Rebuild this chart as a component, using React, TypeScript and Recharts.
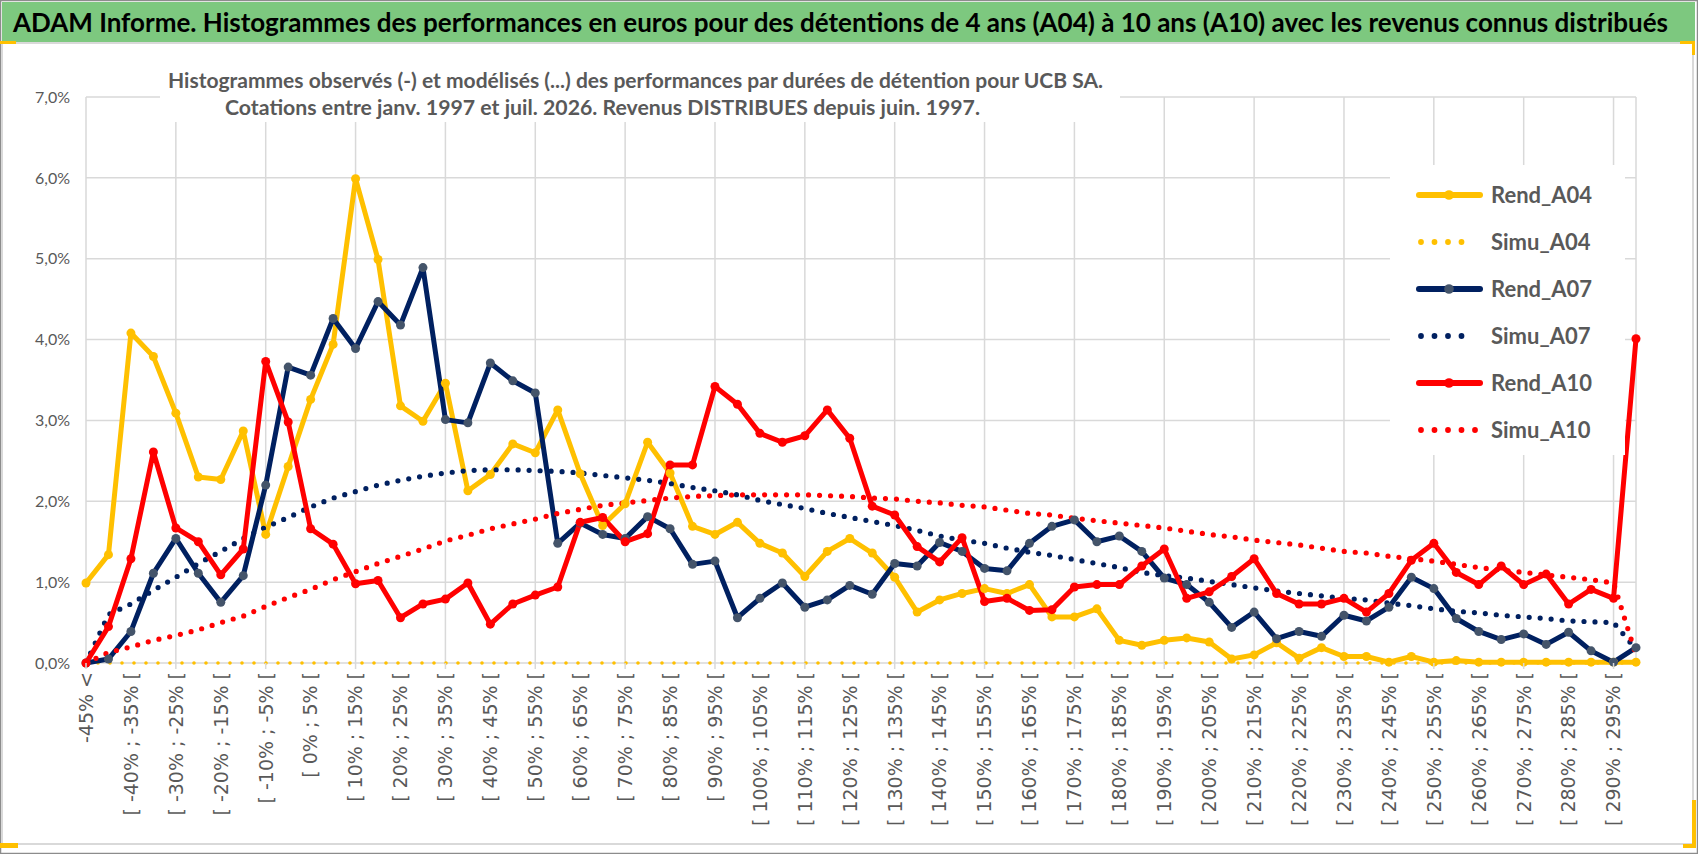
import React from 'react';
import { LineChart, Line, XAxis, YAxis, CartesianGrid, Legend } from 'recharts';

const TITLE =
  'ADAM Informe. Histogrammes des performances en euros pour des détentions de 4 ans (A04) à 10 ans (A10) avec les revenus connus distribués';
const SUBTITLE_1 =
  'Histogrammes observés (-) et modélisés (...) des performances par durées de détention pour UCB SA.';
const SUBTITLE_2 = 'Cotations entre janv. 1997 et juil. 2026. Revenus DISTRIBUES depuis juin. 1997.';

// categories (tranches de performance)
const CATEGORIES = [
  '-45% <', '[ -45% ; -40% [', '[ -40% ; -35% [', '[ -35% ; -30% [', '[ -30% ; -25% [',
  '[ -25% ; -20% [', '[ -20% ; -15% [', '[ -15% ; -10% [', '[ -10% ; -5% [', '[ -5% ; 0% [',
  '[ 0% ; 5% [', '[ 5% ; 10% [', '[ 10% ; 15% [', '[ 15% ; 20% [', '[ 20% ; 25% [',
  '[ 25% ; 30% [', '[ 30% ; 35% [', '[ 35% ; 40% [', '[ 40% ; 45% [', '[ 45% ; 50% [',
  '[ 50% ; 55% [', '[ 55% ; 60% [', '[ 60% ; 65% [', '[ 65% ; 70% [', '[ 70% ; 75% [',
  '[ 75% ; 80% [', '[ 80% ; 85% [', '[ 85% ; 90% [', '[ 90% ; 95% [', '[ 95% ; 100% [',
  '[ 100% ; 105% [', '[ 105% ; 110% [', '[ 110% ; 115% [', '[ 115% ; 120% [', '[ 120% ; 125% [',
  '[ 125% ; 130% [', '[ 130% ; 135% [', '[ 135% ; 140% [', '[ 140% ; 145% [', '[ 145% ; 150% [',
  '[ 150% ; 155% [', '[ 155% ; 160% [', '[ 160% ; 165% [', '[ 165% ; 170% [', '[ 170% ; 175% [',
  '[ 175% ; 180% [', '[ 180% ; 185% [', '[ 185% ; 190% [', '[ 190% ; 195% [', '[ 195% ; 200% [',
  '[ 200% ; 205% [', '[ 205% ; 210% [', '[ 210% ; 215% [', '[ 215% ; 220% [', '[ 220% ; 225% [',
  '[ 225% ; 230% [', '[ 230% ; 235% [', '[ 235% ; 240% [', '[ 240% ; 245% [', '[ 245% ; 250% [',
  '[ 250% ; 255% [', '[ 255% ; 260% [', '[ 260% ; 265% [', '[ 265% ; 270% [', '[ 270% ; 275% [',
  '[ 275% ; 280% [', '[ 280% ; 285% [', '[ 285% ; 290% [', '[ 290% ; 295% [', '> 295%',
];

const Y_TICKS = [0, 1, 2, 3, 4, 5, 6, 7];
// vertical gridlines every 4 categories
const GRID_TICKS = [0, 4, 8, 12, 16, 20, 24, 28, 32, 36, 40, 44, 48, 52, 56, 60, 64, 68];

// values in %
const REND_A04 = [
  0.99, 1.34, 4.08, 3.79, 3.09, 2.30, 2.27, 2.87, 1.59, 2.43,
  3.26, 3.94, 5.99, 4.99, 3.18, 2.99, 3.46, 2.13, 2.33, 2.71,
  2.60, 3.13, 2.34, 1.70, 1.97, 2.73, 2.35, 1.69, 1.59, 1.74,
  1.48, 1.36, 1.07, 1.38, 1.54, 1.36, 1.06, 0.63, 0.78, 0.86,
  0.92, 0.86, 0.97, 0.57, 0.57, 0.67, 0.28, 0.22, 0.28, 0.31,
  0.26, 0.05, 0.10, 0.25, 0.06, 0.19, 0.08, 0.08, 0.01, 0.08,
  0.01, 0.03, 0.01, 0.01, 0.01, 0.01, 0.01, 0.01, 0.01, 0.01,
];
const SIMU_A04 = [
  0, 0, 0, 0, 0, 0, 0, 0, 0, 0,
  0, 0, 0, 0, 0, 0, 0, 0, 0, 0,
  0, 0, 0, 0, 0, 0, 0, 0, 0, 0,
  0, 0, 0, 0, 0, 0, 0, 0, 0, 0,
  0, 0, 0, 0, 0, 0, 0, 0, 0, 0,
  0, 0, 0, 0, 0, 0, 0, 0, 0, 0,
  0, 0, 0, 0, 0, 0, 0, 0, 0, 0,
];
const REND_A07 = [
  0.00, 0.05, 0.39, 1.11, 1.54, 1.11, 0.75, 1.08, 2.20, 3.66,
  3.56, 4.26, 3.89, 4.47, 4.18, 4.89, 3.01, 2.97, 3.71, 3.49,
  3.34, 1.48, 1.73, 1.59, 1.54, 1.81, 1.66, 1.22, 1.26, 0.56,
  0.80, 0.99, 0.69, 0.78, 0.96, 0.85, 1.23, 1.20, 1.49, 1.38,
  1.17, 1.14, 1.48, 1.69, 1.77, 1.50, 1.57, 1.38, 1.05, 0.97,
  0.75, 0.44, 0.63, 0.30, 0.39, 0.33, 0.59, 0.52, 0.69, 1.06,
  0.92, 0.55, 0.39, 0.29, 0.36, 0.23, 0.38, 0.15, 0.01, 0.19,
];
const SIMU_A07 = [
  0.00, 0.60, 0.73, 0.90, 1.06, 1.23, 1.38, 1.54, 1.68, 1.80,
  1.93, 2.04, 2.12, 2.20, 2.26, 2.31, 2.35, 2.38, 2.39, 2.39,
  2.38, 2.37, 2.35, 2.32, 2.29, 2.26, 2.22, 2.17, 2.13, 2.08,
  2.01, 1.96, 1.91, 1.85, 1.80, 1.75, 1.70, 1.64, 1.57, 1.52,
  1.48, 1.42, 1.37, 1.33, 1.28, 1.23, 1.18, 1.12, 1.08, 1.05,
  1.01, 0.97, 0.93, 0.89, 0.86, 0.83, 0.80, 0.78, 0.74, 0.71,
  0.67, 0.64, 0.62, 0.59, 0.57, 0.55, 0.52, 0.51, 0.50, 0.17,
];
const REND_A10 = [
  0.00, 0.45, 1.29, 2.61, 1.67, 1.50, 1.09, 1.41, 3.73, 2.98,
  1.66, 1.47, 0.98, 1.02, 0.56, 0.73, 0.79, 0.99, 0.48, 0.73,
  0.84, 0.94, 1.74, 1.80, 1.50, 1.60, 2.45, 2.45, 3.42, 3.20,
  2.84, 2.73, 2.81, 3.13, 2.78, 1.94, 1.83, 1.44, 1.25, 1.55,
  0.76, 0.80, 0.65, 0.66, 0.94, 0.97, 0.97, 1.20, 1.41, 0.80,
  0.88, 1.07, 1.29, 0.86, 0.73, 0.73, 0.80, 0.63, 0.86, 1.27,
  1.48, 1.12, 0.97, 1.20, 0.97, 1.10, 0.73, 0.91, 0.80, 4.01,
];
const SIMU_A10 = [
  0.00, 0.13, 0.20, 0.28, 0.34, 0.41, 0.50, 0.58, 0.70, 0.81,
  0.91, 1.03, 1.13, 1.23, 1.32, 1.41, 1.51, 1.58, 1.66, 1.72,
  1.78, 1.85, 1.90, 1.95, 1.98, 2.01, 2.04, 2.06, 2.07, 2.08,
  2.08, 2.08, 2.08, 2.07, 2.06, 2.04, 2.03, 2.00, 1.98, 1.95,
  1.93, 1.89, 1.85, 1.83, 1.79, 1.76, 1.73, 1.70, 1.67, 1.63,
  1.59, 1.56, 1.52, 1.49, 1.46, 1.42, 1.38, 1.36, 1.32, 1.29,
  1.26, 1.22, 1.18, 1.15, 1.12, 1.09, 1.06, 1.03, 0.99, 0.10,
];

const SERIES = [
  { key: 'rendA04', name: 'Rend_A04', color: '#FFC000', dotted: false, marker: '#FFC000', width: 5, dash: '', legendDots: 0 },
  { key: 'simuA04', name: 'Simu_A04', color: '#FFC000', dotted: true, marker: '', width: 3.6, dash: '0 12', legendDots: 4 },
  { key: 'rendA07', name: 'Rend_A07', color: '#002060', dotted: false, marker: '#44546A', width: 5, dash: '', legendDots: 0 },
  { key: 'simuA07', name: 'Simu_A07', color: '#002060', dotted: true, marker: '', width: 5.2, dash: '0 11', legendDots: 4 },
  { key: 'rendA10', name: 'Rend_A10', color: '#FF0000', dotted: false, marker: '#FF0000', width: 5, dash: '', legendDots: 0 },
  { key: 'simuA10', name: 'Simu_A10', color: '#FF0000', dotted: true, marker: '', width: 5.2, dash: '0 11', legendDots: 5 },
];

const data = CATEGORIES.map((cat, i) => ({
  cat,
  idx: i,
  rendA04: REND_A04[i],
  simuA04: SIMU_A04[i],
  rendA07: REND_A07[i],
  simuA07: SIMU_A07[i],
  rendA10: REND_A10[i],
  simuA10: SIMU_A10[i],
}));

const GRAY_TEXT = '#595959';
const GRID = '#d9d9d9';

const XTick = ({ x, y, payload }: any) => {
  const idx = CATEGORIES.indexOf(payload.value);
  const ty = y + 9;
  return (
    <g>
      {idx % 4 === 0 && <line x1={x} x2={x} y1={y} y2={y + 6} stroke={GRID} strokeWidth={1.5} />}
      <text
        x={x}
        y={ty}
        dy="0.36em"
        textAnchor="end"
        transform={`rotate(-90 ${x} ${ty})`}
        fontFamily="'DejaVu Sans', sans-serif"
        fontSize={19}
        fill={GRAY_TEXT}
      >
        {payload.value}
      </text>
    </g>
  );
};

// legend drawn in series order (not alphabetical)
const renderLegend = (props: any) => {
  const names = (props.payload || []).map((p: any) => p.value);
  const items = SERIES.filter((s) => names.length === 0 || names.includes(s.name));
  return (
    <div style={{ position: 'relative', width: 235, height: 290, background: '#fff' }}>
      {items.map((s, i) => {
        const cy = 30 + 47 * i;
        return (
          <div key={s.key} style={{ position: 'absolute', left: 0, top: cy - 15, height: 30, width: 235 }}>
            <svg width={70} height={30} style={{ position: 'absolute', left: 26, top: 0 }}>
              {s.dotted ? (
                Array.from({ length: s.legendDots }).map((_, k) => (
                  <circle key={k} cx={5 + k * 13.5} cy={15} r={2.9} fill={s.color} />
                ))
              ) : (
                <>
                  <line x1={3} x2={64} y1={15} y2={15} stroke={s.color} strokeWidth={6} strokeLinecap="round" />
                  <circle cx={33} cy={15} r={4.8} fill={s.marker} />
                </>
              )}
            </svg>
            <span
              style={{
                position: 'absolute',
                left: 101,
                top: 0,
                lineHeight: '30px',
                fontFamily: 'Lato, sans-serif',
                fontWeight: 700,
                fontSize: 22,
                color: GRAY_TEXT,
                whiteSpace: 'nowrap',
              }}
            >
              {s.name}
            </span>
          </div>
        );
      })}
    </div>
  );
};

export default function App() {
  return (
    <div style={{ position: 'absolute', left: 0, top: 0, width: 1698, height: 854, background: '#fff', overflow: 'hidden' }}>
      {/* frame + title bar */}
      <svg width={1698} height={854} style={{ position: 'absolute', left: 0, top: 0 }}>
        <rect x={0.5} y={0.5} width={1697} height={853} fill="#fff" stroke="#8c8c8c" strokeWidth={1.5} />
        <rect x={2} y={2} width={1693} height={40} fill="#7DC87F" />
        <rect x={2} y={43} width={1691} height={801} fill="#fff" stroke={GRID} strokeWidth={2} />
        <text
          x={13}
          y={32}
          fontFamily="Lato, sans-serif"
          fontWeight={700}
          fontSize={26}
          fill="#000"
          textLength={1655}
          lengthAdjust="spacingAndGlyphs"
        >
          {TITLE}
        </text>
        {/* selection handles */}
        <rect x={0} y={41} width={16} height={3} fill="#FFC000" />
        <rect x={1680} y={41} width={15} height={3} fill="#FFC000" />
        <rect x={1692} y={41} width={3} height={14} fill="#FFC000" />
        <rect x={1692} y={800} width={4} height={48} fill="#FFC000" />
        <rect x={1683} y={844} width={13} height={4} fill="#FFC000" />
        <rect x={0} y={843} width={18} height={5} fill="#FFC000" />
      </svg>

      <div style={{ position: 'absolute', left: 0, top: 0 }}>
        <LineChart width={1698} height={854} data={data} margin={{ top: 97, right: 62, bottom: 11, left: 0 }}>
          <XAxis xAxisId="grid" type="number" dataKey="idx" domain={[0, 69]} ticks={GRID_TICKS} hide />
          <CartesianGrid xAxisId="grid" stroke={GRID} strokeWidth={1.5} />
          <XAxis
            dataKey="cat"
            interval={1}
            height={180}
            axisLine={false}
            tickLine={false}
            tickSize={0}
            tickMargin={0}
            tick={<XTick />}
          />
          <YAxis
            width={86}
            domain={[0, 7]}
            ticks={Y_TICKS}
            axisLine={false}
            tickLine={false}
            tickMargin={10}
            tick={{ fontFamily: 'Lato, sans-serif', fontSize: 16, fill: GRAY_TEXT }}
            tickFormatter={(v: number) => v.toFixed(1).replace('.', ',') + '%'}
          />
          <Legend
            layout="horizontal"
            verticalAlign="middle"
            align="center"
            content={renderLegend}
            wrapperStyle={{ left: 1390, top: 165, width: 235, height: 290 }}
          />
          {SERIES.map((s) => (
            <Line
              key={s.key}
              dataKey={s.key}
              name={s.name}
              stroke={s.color}
              strokeWidth={s.width}
              strokeDasharray={s.dotted ? s.dash : undefined}
              strokeLinecap="round"
              strokeLinejoin="round"
              dot={s.dotted ? false : { r: 4.5, fill: s.marker, stroke: s.marker, strokeWidth: 0 }}
              activeDot={false}
              isAnimationActive={false}
            />
          ))}
        </LineChart>
      </div>

      {/* subtitle box */}
      <div style={{ position: 'absolute', left: 160, top: 60, width: 960, height: 62, background: '#fff' }}>
        <svg width={960} height={62}>
          <text
            x={8}
            y={28}
            fontFamily="Lato, sans-serif"
            fontWeight={700}
            fontSize={20}
            fill={GRAY_TEXT}
            textLength={935}
            lengthAdjust="spacingAndGlyphs"
          >
            {SUBTITLE_1}
          </text>
          <text
            x={65}
            y={55}
            fontFamily="Lato, sans-serif"
            fontWeight={700}
            fontSize={20}
            fill={GRAY_TEXT}
            textLength={755}
            lengthAdjust="spacingAndGlyphs"
          >
            {SUBTITLE_2}
          </text>
        </svg>
      </div>
    </div>
  );
}
